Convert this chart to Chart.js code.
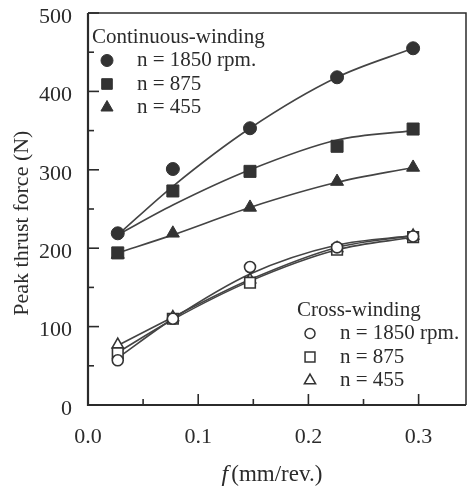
<!DOCTYPE html>
<html>
<head>
<meta charset="utf-8">
<script src="https://cdn.jsdelivr.net/npm/chart.js@4.4.0/dist/chart.umd.min.js"></script>
<style>
  html, body { margin: 0; background: #fff; overflow: hidden; }
  #wrap { width: 468px; height: 488px; }
  canvas { display: block; }
</style>
</head>
<body>
<div id="wrap"><canvas id="grafico"></canvas></div>
<script>
// avance f (mm/rev.)
const avance = [0.027, 0.077, 0.147, 0.226, 0.295];

// bobinado continuo: puntos medidos
const contN1850 = [219, 301, 353, 418, 455];
const contN875 = [194, 273, 298, 330, 352];
const contN455 = [192, 219, 252, 285, 303];
// bobinado continuo: curvas ajustadas
const ajusteCont1850 = [217, 279, 353, 418, 455];
const ajusteCont875 = [217, 255, 300, 338, 350];
const ajusteCont455 = [194, 217, 252, 284, 303];

// bobinado cruzado: puntos medidos
const cruzN1850 = [57, 110, 176, 201, 215];
const cruzN875 = [66, 110, 156, 198, 214];
const cruzN455 = [77, 112, 160, 200, 216];
// bobinado cruzado: curvas ajustadas
const ajusteCruz1850 = [60, 110, 167, 204, 216];
const ajusteCruz875 = [67, 109, 158, 198, 214];
const ajusteCruz455 = [76, 112, 160, 201, 216];

const ticksY = [0, 100, 200, 300, 400, 500];
const ticksX = [0.0, 0.1, 0.2, 0.3];

const leyendaCont = ["n = 1850 rpm.", "n = 875", "n = 455"];
const leyendaCruz = ["n = 1850 rpm.", "n = 875", "n = 455"];

const tinta = "#2b2b2b";
const fuente = "'Liberation Serif', 'DejaVu Serif', serif";

function puntos(ys) {
  return avance.map((x, i) => ({ x: x, y: ys[i] }));
}

function curva(ys) {
  return {
    type: "line",
    data: puntos(ys),
    borderColor: "#444",
    borderWidth: 1.6,
    pointRadius: 0,
    cubicInterpolationMode: "monotone",
    fill: false,
    order: 2,
  };
}

function marcas(ys, estilo, radio, lleno) {
  return {
    type: "scatter",
    data: puntos(ys),
    pointStyle: estilo,
    pointRadius: radio,
    pointBackgroundColor: lleno ? "#333" : "#fff",
    pointBorderColor: "#333",
    pointBorderWidth: lleno ? 1 : 1.6,
    showLine: false,
    order: 1,
  };
}

// sin relleno automatico alrededor de las etiquetas
function sinRelleno(eje) {
  eje.paddingTop = 0;
  eje.paddingBottom = 0;
  eje.paddingLeft = 0;
  eje.paddingRight = 0;
}

// ejes dibujados a mano: marcas hacia adentro, marco, titulos y leyendas
const decoracion = {
  id: "decoracion",
  afterDraw(chart) {
    const ctx = chart.ctx;
    const area = chart.chartArea;
    const sx = chart.scales.x;
    const sy = chart.scales.y;
    ctx.save();
    ctx.strokeStyle = tinta;

    // marco
    ctx.lineWidth = 1.5;
    ctx.beginPath();
    ctx.moveTo(area.left, area.top);
    ctx.lineTo(area.right, area.top);
    ctx.lineTo(area.right, area.bottom);
    ctx.stroke();
    ctx.lineWidth = 2.2;
    ctx.beginPath();
    ctx.moveTo(area.left, area.top);
    ctx.lineTo(area.left, area.bottom);
    ctx.lineTo(area.right, area.bottom);
    ctx.stroke();

    // marcas del eje y
    ctx.lineWidth = 1.6;
    for (let v = 0; v <= 500; v += 50) {
      const y = sy.getPixelForValue(v);
      const largo = v % 100 === 0 ? 11 : 6;
      ctx.beginPath();
      ctx.moveTo(area.left, y);
      ctx.lineTo(area.left + largo, y);
      ctx.stroke();
    }
    // marcas del eje x
    for (let i = 1; i <= 6; i++) {
      const x = sx.getPixelForValue(i * 0.05);
      const largo = i % 2 === 0 ? 11 : 6;
      ctx.beginPath();
      ctx.moveTo(x, area.bottom);
      ctx.lineTo(x, area.bottom - largo);
      ctx.stroke();
    }

    // titulo del eje y
    ctx.fillStyle = tinta;
    ctx.textBaseline = "middle";
    ctx.textAlign = "center";
    ctx.font = "22px " + fuente;
    ctx.save();
    ctx.translate(22, sy.getPixelForValue(232));
    ctx.rotate(-Math.PI / 2);
    ctx.fillText("Peak thrust force (N)", 0, 0);
    ctx.restore();

    // titulo del eje x con f en cursiva
    const cx = (area.left + area.right) / 2 - 5;
    const ty = area.bottom + 70;
    const resto = "(mm/rev.)";
    ctx.font = "23px " + fuente;
    const anchoResto = ctx.measureText(resto).width;
    ctx.font = "italic 24px " + fuente;
    const anchoF = ctx.measureText("f").width + 3;
    const x0 = cx - (anchoF + anchoResto) / 2;
    ctx.textAlign = "left";
    ctx.fillText("f", x0, ty);
    ctx.font = "23px " + fuente;
    ctx.fillText(resto, x0 + anchoF, ty);

    // leyendas
    function leyenda(titulo, textos, estilos, lleno, x, y, xMarca, xTexto, radios) {
      ctx.font = "21px " + fuente;
      ctx.textAlign = "left";
      ctx.fillStyle = tinta;
      ctx.fillText(titulo, x, y);
      textos.forEach((t, i) => {
        const yy = y + 23.5 * (i + 1);
        ctx.fillStyle = lleno ? "#333" : "#fff";
        ctx.strokeStyle = "#333";
        ctx.lineWidth = lleno ? 1 : 1.5;
        Chart.helpers.drawPoint(ctx, { pointStyle: estilos[i], radius: radios[i], rotation: 0, borderWidth: ctx.lineWidth }, xMarca, yy);
        ctx.fillStyle = tinta;
        ctx.fillText(t, xTexto, yy);
      });
    }
    leyenda("Continuous-winding", leyendaCont, ["circle", "rect", "triangle"], true,
      area.left + 4, area.top + 24, area.left + 19, area.left + 49, [6, 7.5, 7]);
    leyenda("Cross-winding", leyendaCruz, ["circle", "rect", "triangle"], false,
      area.left + 209, area.top + 297, area.left + 222, area.left + 252, [5, 7, 6.5]);

    ctx.restore();
  },
};

const config = {
  data: {
    datasets: [
      curva(ajusteCont1850),
      curva(ajusteCont875),
      curva(ajusteCont455),
      curva(ajusteCruz1850),
      curva(ajusteCruz875),
      curva(ajusteCruz455),
      marcas(contN1850, "circle", 6.5, true),
      marcas(contN875, "rect", 8.5, true),
      marcas(contN455, "triangle", 7.5, true),
      marcas(cruzN1850, "circle", 5.5, false),
      marcas(cruzN875, "rect", 7.5, false),
      marcas(cruzN455, "triangle", 6.5, false),
    ],
  },
  options: {
    responsive: true,
    maintainAspectRatio: false,
    animation: false,
    layout: { autoPadding: false, padding: { top: 13, right: 2, left: 0, bottom: 0 } },
    plugins: {
      legend: { display: false },
      tooltip: { enabled: false },
    },
    scales: {
      x: {
        type: "linear",
        min: 0,
        max: 0.343,
        grid: { display: false },
        border: { display: false },
        afterBuildTicks: (eje) => {
          eje.ticks = ticksX.map((v) => ({ value: v }));
        },
        afterFit: (eje) => {
          eje.height = 83;
          sinRelleno(eje);
        },
        ticks: {
          color: tinta,
          padding: 11,
          font: { family: fuente, size: 22 },
          callback: (v) => Number(v).toFixed(1),
        },
      },
      y: {
        type: "linear",
        min: 0,
        max: 500,
        grid: { display: false },
        border: { display: false },
        afterBuildTicks: (eje) => {
          eje.ticks = ticksY.map((v) => ({ value: v }));
        },
        afterFit: (eje) => {
          eje.width = 88;
          sinRelleno(eje);
        },
        ticks: {
          color: tinta,
          padding: 8,
          labelOffset: 4,
          font: { family: fuente, size: 22 },
        },
      },
    },
  },
  plugins: [decoracion],
};

new Chart(document.getElementById("grafico"), config);
</script>
</body>
</html>
